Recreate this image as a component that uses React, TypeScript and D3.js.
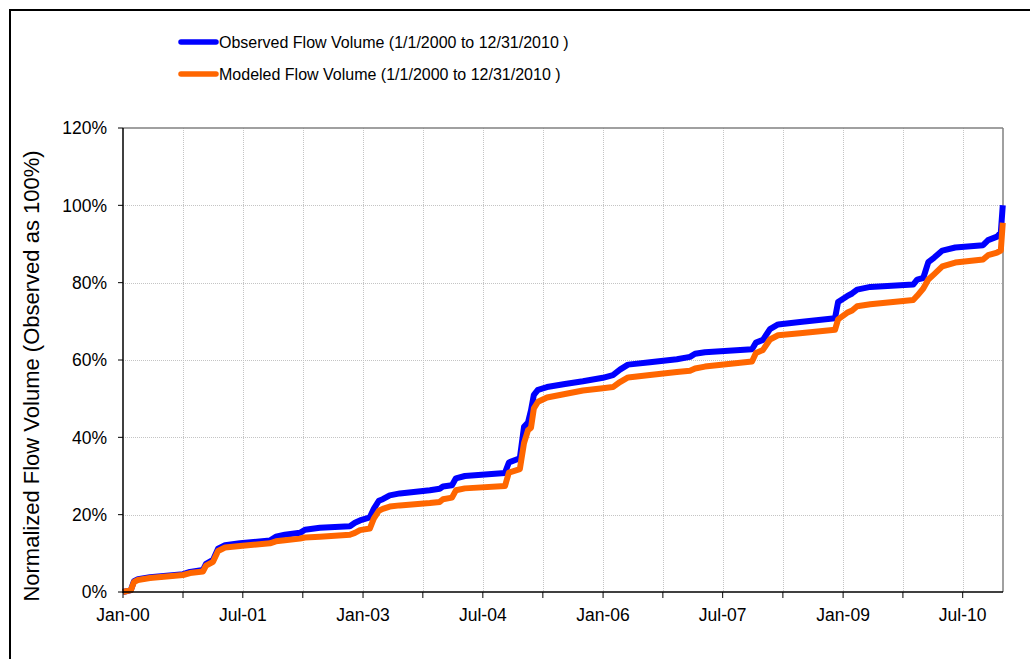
import React from "react";
import * as d3 from "d3";

// ---- data ----
const dates: string[] = [
  "2000-01-01","2000-02-06","2000-02-20","2000-03-09","2000-05-03","2000-10-01","2000-11-02","2000-12-31",
  "2001-01-14","2001-02-15","2001-03-10","2001-04-11","2001-06-18","2001-11-02","2001-11-29","2002-01-09",
  "2002-03-19","2002-04-11","2002-06-18","2002-11-02","2002-11-25","2002-12-18","2003-02-01","2003-02-19",
  "2003-03-14","2003-04-01","2003-05-03","2003-06-18","2003-11-02","2003-12-17","2004-01-01","2004-02-11",
  "2004-02-29","2004-04-10","2004-10-10","2004-10-28","2004-12-17","2005-01-05","2005-01-23","2005-02-06",
  "2005-02-19","2005-03-10","2005-04-20","2005-07-11","2005-10-01","2005-12-31","2006-02-15","2006-03-19",
  "2006-04-25","2006-08-03","2006-12-04","2007-02-02","2007-02-25","2007-04-11","2007-11-12","2007-11-30",
  "2008-01-01","2008-02-02","2008-03-10","2008-06-18","2008-11-25","2008-12-09","2009-01-19","2009-02-11",
  "2009-03-06","2009-05-05","2009-11-17","2009-12-05","2010-01-02","2010-01-25","2010-02-21","2010-03-30",
  "2010-05-28","2010-10-02","2010-10-25","2010-12-05","2010-12-22","2010-12-31"
];
const observed: number[] = [
  0, 0.5, 2.8, 3.3, 3.8, 4.6, 5.2, 5.7,
  7.3, 8.3, 11.2, 12.1, 12.6, 13.3, 14.3, 14.8,
  15.3, 16.1, 16.6, 17.0, 17.9, 18.5, 19.3, 21.5,
  23.6, 24.0, 25.0, 25.5, 26.3, 26.7, 27.3, 27.6,
  29.4, 30.0, 30.8, 33.5, 34.6, 42.7, 43.8, 47.0,
  51.0, 52.3, 53.0, 53.8, 54.5, 55.4, 56.1, 57.5,
  58.8, 59.4, 60.2, 60.8, 61.6, 62.0, 62.8, 64.5,
  65.2, 68.0, 69.2, 69.8, 70.8, 75.0, 76.5, 77.2,
  78.2, 78.9, 79.5, 80.8, 81.2, 85.3, 86.5, 88.3,
  89.1, 89.7, 91.0, 91.9, 93.0, 100.0
];
const modeled: number[] = [
  0, 0.5, 2.6, 3.1, 3.6, 4.4, 4.9, 5.3,
  6.8, 7.8, 10.6, 11.5, 11.9, 12.6, 13.1, 13.4,
  13.8, 14.1, 14.3, 14.8, 15.3, 16.0, 16.4, 19.0,
  21.0, 21.5, 22.1, 22.4, 23.0, 23.3, 24.0, 24.4,
  26.3, 26.8, 27.4, 30.9, 31.8, 38.5, 41.8, 42.5,
  47.5, 49.2, 50.3, 51.2, 52.1, 52.7, 53.0, 54.3,
  55.5, 56.1, 56.9, 57.2, 57.8, 58.3, 59.6, 61.8,
  62.6, 65.3, 66.4, 66.9, 67.8, 70.5, 72.2, 72.8,
  73.9, 74.4, 75.5, 76.6, 78.5, 80.8, 82.2, 84.2,
  85.2, 86.0, 87.1, 87.8, 88.3, 95.5
];
const xTickDates: string[] = [
  "2000-01-01","2000-10-01","2001-07-01","2002-04-01","2003-01-01","2003-10-01","2004-07-01","2005-04-01",
  "2006-01-01","2006-10-01","2007-07-01","2008-04-01","2009-01-01","2009-10-01","2010-07-01"
];
const xTickLabels: string[] = ["Jan-00","","Jul-01","","Jan-03","","Jul-04","","Jan-06","","Jul-07","","Jan-09","","Jul-10"];
const yTicks: number[] = [0, 20, 40, 60, 80, 100, 120];
const yTickLabels: string[] = ["0%","20%","40%","60%","80%","100%","120%"];
const seriesNames: string[] = [
  "Observed Flow Volume (1/1/2000 to 12/31/2010 )",
  "Modeled Flow Volume (1/1/2000 to 12/31/2010 )"
];
const seriesColors: string[] = ["#0000ff", "#ff6600"];
const yTitle = "Normalized Flow Volume (Observed as 100%)";

const parse = d3.timeParse("%Y-%m-%d");

export default function App() {
  const W = 1030, H = 659;
  const left = 123, right = 1003, top = 128, bottom = 592;
  const x = d3.scaleTime()
    .domain([parse("2000-01-01") as Date, parse("2011-01-01") as Date])
    .range([left, right]);
  const y = d3.scaleLinear().domain([0, 120]).range([bottom, top]);

  const pts = dates.map((d, i) => ({ d: parse(d) as Date, o: observed[i], m: modeled[i] }));
  const lineO = d3.line<any>().x(p => x(p.d)).y(p => y(p.o));
  const lineM = d3.line<any>().x(p => x(p.d)).y(p => y(p.m));

  const font = "Arial, 'Liberation Sans', sans-serif";
  const grid = "#c4c4c4";

  return (
    <svg width={W} height={H} style={{ position: "absolute", left: 0, top: 0, background: "#fff" }}
      fontFamily={font}>
      <rect x={0} y={0} width={W} height={H} fill="#fff" />
      {/* outer chart border */}
      <line x1={9} y1={10} x2={W} y2={10} stroke="#000" strokeWidth={2} />
      <line x1={10} y1={9} x2={10} y2={H} stroke="#000" strokeWidth={2} />

      {/* gridlines */}
      {yTicks.filter(t => t > 0 && t < 120).map(t => (
        <line key={"gy" + t} x1={left} x2={right} y1={Math.round(y(t)) + 0.5} y2={Math.round(y(t)) + 0.5}
          stroke={grid} strokeWidth={1} strokeDasharray="1,1" />
      ))}
      {xTickDates.slice(1).map(d => {
        const xx = Math.round(x(parse(d) as Date)) + 0.5;
        return <line key={"gx" + d} x1={xx} x2={xx} y1={top} y2={bottom}
          stroke={grid} strokeWidth={1} strokeDasharray="1,1" />;
      })}

      {/* plot border top/right */}
      <line x1={left} x2={right} y1={top} y2={top} stroke="#808080" strokeWidth={1.5} />
      <line x1={right} x2={right} y1={top} y2={bottom} stroke="#808080" strokeWidth={1.5} />

      {/* series */}
      <path d={lineO(pts) || ""} fill="none" stroke={seriesColors[0]} strokeWidth={6} strokeLinejoin="round" />
      <path d={lineM(pts) || ""} fill="none" stroke={seriesColors[1]} strokeWidth={6} strokeLinejoin="round" />

      {/* axes */}
      <line x1={left} x2={left} y1={top} y2={bottom + 1} stroke="#000" strokeWidth={1.5} />
      <line x1={left} x2={right} y1={bottom} y2={bottom} stroke="#000" strokeWidth={1.5} />
      {yTicks.map((t, i) => (
        <g key={"yt" + t}>
          <line x1={left - 5} x2={left} y1={y(t)} y2={y(t)} stroke="#000" strokeWidth={1} />
          <text x={107} y={y(t)} dy="0.36em" textAnchor="end" fontSize={17.5} fill="#000">{yTickLabels[i]}</text>
        </g>
      ))}
      {xTickDates.map((d, i) => {
        const xx = x(parse(d) as Date);
        return (
          <g key={"xt" + d}>
            <line x1={xx} x2={xx} y1={bottom} y2={bottom + 6} stroke="#000" strokeWidth={1} />
            {xTickLabels[i] && (
              <text x={xx} y={621} textAnchor="middle" fontSize={17.5} fill="#000">{xTickLabels[i]}</text>
            )}
          </g>
        );
      })}

      {/* y title */}
      <text transform={`translate(39,${376}) rotate(-90)`} textAnchor="middle" fontSize={22} fill="#000">
        {yTitle}
      </text>

      {/* legend */}
      {seriesNames.map((n, i) => (
        <g key={n}>
          <line x1={181} x2={216} y1={42 + i * 32} y2={42 + i * 32} stroke={seriesColors[i]} strokeWidth={5.5}
            strokeLinecap="round" />
          <text x={219} y={47.5 + i * 32} fontSize={16} fill="#000">{n}</text>
        </g>
      ))}
    </svg>
  );
}
